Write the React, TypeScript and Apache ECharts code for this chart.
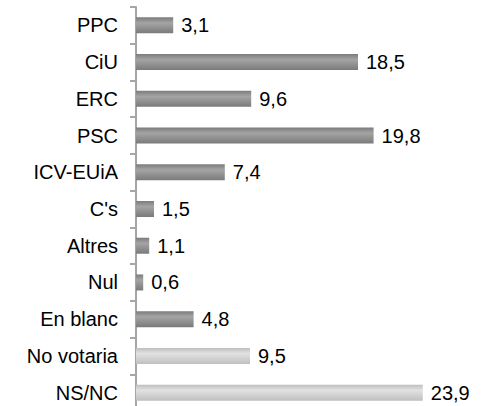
import React, { useEffect, useRef } from "react";
import * as echarts from "echarts";

const categories = ["PPC", "CiU", "ERC", "PSC", "ICV-EUiA", "C's", "Altres", "Nul", "En blanc", "No votaria", "NS/NC"];
const values = [3.1, 18.5, 9.6, 19.8, 7.4, 1.5, 1.1, 0.6, 4.8, 9.5, 23.9];
const lightCategories = ["No votaria", "NS/NC"];

const darkGrad = () =>
  new echarts.graphic.LinearGradient(0, 0, 0, 1, [
    { offset: 0, color: "#7c7c7c" },
    { offset: 0.35, color: "#a4a4a4" },
    { offset: 1, color: "#7a7a7a" },
  ]);
const lightGrad = () =>
  new echarts.graphic.LinearGradient(0, 0, 0, 1, [
    { offset: 0, color: "#bdbdbd" },
    { offset: 0.35, color: "#e2e2e2" },
    { offset: 1, color: "#c0c0c0" },
  ]);

export default function App() {
  const ref = useRef<HTMLDivElement>(null);
  useEffect(() => {
    if (!ref.current) return;
    const chart = echarts.init(ref.current, null, { renderer: "svg" });
    const font = "'Liberation Sans', Arial, sans-serif";
    chart.setOption({
      animation: false,
      grid: { left: 136, right: 49, top: 7, height: 404 },
      xAxis: { type: "value", min: 0, max: 25, show: false },
      yAxis: {
        type: "category",
        data: categories,
        inverse: true,
        axisLine: { show: true, lineStyle: { color: "#a6a6a6", width: 2 } },
        axisTick: { show: true, length: 6, lineStyle: { color: "#a6a6a6", width: 2 } },
        axisLabel: { margin: 18, color: "#000", fontSize: 20, fontFamily: font },
        splitLine: { show: false },
      },
      series: [
        {
          type: "bar",
          barWidth: 16,
          data: values.map((v, i) => ({
            value: v,
            itemStyle: { color: lightCategories.includes(categories[i]) ? lightGrad() : darkGrad() },
          })),
          label: {
            show: true,
            position: "right",
            distance: 8,
            color: "#000",
            fontSize: 20,
            fontFamily: font,
            formatter: (p: any) => String(p.value).replace(".", ","),
          },
        },
      ],
    });
    return () => chart.dispose();
  }, []);
  return (
    <div
      ref={ref}
      style={{ position: "fixed", left: 0, top: 0, width: 485, height: 420, background: "#fff" }}
    />
  );
}
